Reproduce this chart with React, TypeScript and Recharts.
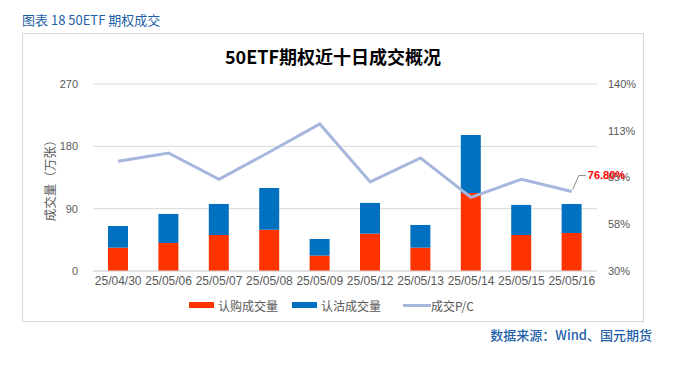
import React from "react";
import {
  ComposedChart,
  Bar,
  Line,
  XAxis,
  YAxis,
  CartesianGrid,
  LabelList,
} from "recharts";

const dates = [
  "25/04/30",
  "25/05/06",
  "25/05/07",
  "25/05/08",
  "25/05/09",
  "25/05/12",
  "25/05/13",
  "25/05/14",
  "25/05/15",
  "25/05/16",
];
const callVolume = [33.7, 40.5, 52.0, 59.7, 22.2, 53.9, 33.7, 112.7, 52.0, 54.9];
const putVolume = [31.3, 41.9, 44.8, 60.3, 24.0, 44.4, 32.8, 83.8, 43.4, 41.9];
const pcRatio = [94.5, 99.4, 83.9, 100.0, 116.5, 82.4, 96.5, 73.3, 84.0, 76.8];
const leftTicks = [0, 90, 180, 270];
const rightTicks = [30, 57.5, 85, 112.5, 140];

const data = dates.map((d, i) => ({
  date: d,
  call: callVolume[i],
  put: putVolume[i],
  pc: pcRatio[i],
}));

const CJK = '"Noto Sans CJK SC", "Liberation Sans", sans-serif';
const NUM = '"Liberation Sans", "Noto Sans CJK SC", sans-serif';
const BLUE_TXT = "#1F5FA8";

// only the last point gets a label, with a small leader line
function LastLabel(props: any) {
  const { x, y, index, value } = props;
  if (index !== dates.length - 1) return null;
  return (
    <g>
      <path
        d={`M${x + 1},${y - 2} L${x + 7},${y - 16} L${x + 14},${y - 16}`}
        stroke="#8c8c8c"
        fill="none"
        strokeWidth={1}
      />
      <text
        x={x + 16}
        y={y - 16}
        dy="0.35em"
        fill="#FF0000"
        fontSize={11}
        fontWeight="bold"
        fontFamily={NUM}
      >
        {Number(value).toFixed(2)}%
      </text>
    </g>
  );
}

function LegendItem({ kind, color, label }: { kind: string; color: string; label: string }) {
  return (
    <div style={{ display: "flex", alignItems: "center", marginRight: kind === "bar" ? 14 : 0 }}>
      <div
        style={{
          width: kind === "bar" ? 25 : 28,
          height: kind === "bar" ? 6 : 3,
          background: color,
          marginRight: kind === "bar" ? 4 : 0,
        }}
      />
      <span style={{ fontSize: 12, color: "#595959", fontFamily: CJK }}>{label}</span>
    </div>
  );
}

export default function App() {
  return (
    <div
      style={{
        position: "absolute",
        left: 0,
        top: 0,
        width: 688,
        height: 381,
        background: "#fff",
        fontFamily: CJK,
      }}
    >
      <div
        style={{
          position: "absolute",
          left: 22,
          top: 10,
          fontSize: 13,
          color: BLUE_TXT,
          whiteSpace: "nowrap",
          lineHeight: "20px",
        }}
      >
        图表 18 50ETF 期权成交
      </div>
      <div
        style={{
          position: "absolute",
          left: 22,
          top: 33,
          width: 620,
          height: 287,
          border: "1px solid #d9d9d9",
        }}
      />
      <div
        style={{
          position: "absolute",
          left: 22,
          top: 44,
          width: 622,
          textAlign: "center",
          fontSize: 18,
          fontWeight: "bold",
          color: "#000",
          lineHeight: "24px",
        }}
      >
        50ETF期权近十日成交概况
      </div>
      <div style={{ position: "absolute", left: 22, top: 33 }}>
        <ComposedChart
          width={622}
          height={289}
          data={data}
          margin={{ top: 51, right: 0, left: 0, bottom: 31 }}
        >
          <CartesianGrid vertical={false} stroke="#d9d9d9" yAxisId="left" />
          <XAxis
            dataKey="date"
            interval={0}
            axisLine={{ stroke: "#d9d9d9" }}
            tickLine={false}
            tickSize={0}
            tickMargin={5}
            height={20}
            tick={{ fontSize: 12, fill: "#595959", fontFamily: NUM }}
          />
          <YAxis
            yAxisId="left"
            domain={[0, 270]}
            ticks={leftTicks}
            width={71}
            axisLine={false}
            tickLine={false}
            tickSize={0}
            tickMargin={15}
            tick={{ fontSize: 11, fill: "#595959", fontFamily: NUM }}
            label={{
              value: "成交量（万张）",
              angle: -90,
              position: "center",
              dx: -7,
              style: { fontSize: 12.5, fill: "#595959", fontFamily: CJK },
            }}
          />
          <YAxis
            yAxisId="right"
            orientation="right"
            domain={[30, 140]}
            ticks={rightTicks}
            width={47}
            axisLine={false}
            tickLine={false}
            tickSize={0}
            tickMargin={11}
            tickFormatter={(v: number) => `${Math.round(v)}%`}
            tick={{ fontSize: 11, fill: "#595959", fontFamily: NUM }}
          />
          <Bar
            yAxisId="left"
            dataKey="call"
            stackId="vol"
            fill="#FF3300"
            barSize={20}
            isAnimationActive={false}
          />
          <Bar
            yAxisId="left"
            dataKey="put"
            stackId="vol"
            fill="#0070C0"
            barSize={20}
            isAnimationActive={false}
          />
          <Line
            yAxisId="right"
            dataKey="pc"
            stroke="#A7B6DD"
            strokeWidth={3}
            dot={false}
            activeDot={false}
            isAnimationActive={false}
          >
            <LabelList dataKey="pc" content={<LastLabel />} />
          </Line>
        </ComposedChart>
      </div>
      <div
        style={{
          position: "absolute",
          left: 189,
          top: 296,
          display: "flex",
          alignItems: "center",
          height: 18,
        }}
      >
        <LegendItem kind="bar" color="#FF3300" label="认购成交量" />
        <LegendItem kind="bar" color="#0070C0" label="认沽成交量" />
        <div style={{ width: 8 }} />
        <LegendItem kind="line" color="#A7B6DD" label="成交P/C" />
      </div>
      <div
        style={{
          position: "absolute",
          right: 36,
          top: 325,
          fontSize: 13,
          color: BLUE_TXT,
          fontWeight: 500,
          whiteSpace: "nowrap",
          lineHeight: "20px",
        }}
      >
        数据来源：Wind、国元期货
      </div>
    </div>
  );
}
